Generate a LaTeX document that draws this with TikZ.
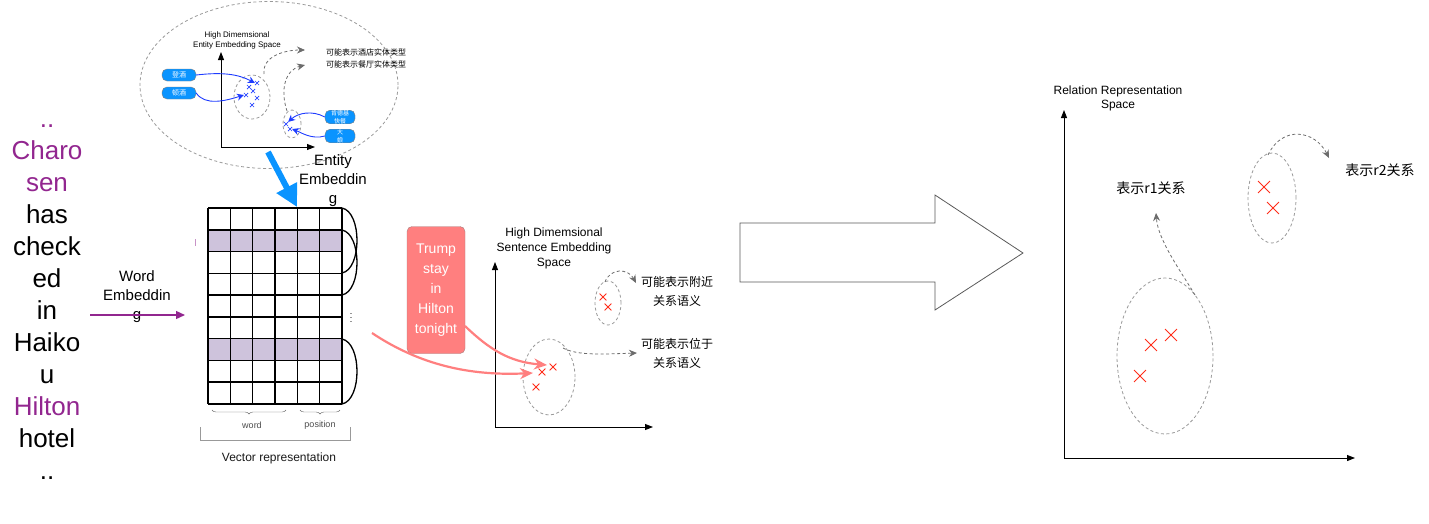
\documentclass[tikz,border=0pt]{standalone}
\usepackage{fontspec}
\setmainfont{Liberation Sans}
\newfontfamily\cjk{Noto Sans CJK SC}
\usetikzlibrary{arrows.meta,positioning,shapes.misc,shapes.geometric,decorations.pathreplacing,calc}
\definecolor{wpurple}{RGB}{146,38,143}
\definecolor{eblue}{RGB}{10,148,255}
\definecolor{xblue}{RGB}{30,60,255}
\definecolor{salmon}{RGB}{255,127,127}
\definecolor{xred}{RGB}{255,45,25}
\definecolor{lav}{RGB}{206,195,220}
\tikzset{>={Stealth[length=7pt,width=6pt]},
	axis/.style={line width=0.9pt,{Triangle[length=8pt,width=6pt]}-{Triangle[length=8pt,width=6pt]}},
	cluster/.style={ellipse,draw=gray!80,dashed,dash pattern=on 3pt off 2.5pt,line width=0.8pt,inner sep=0pt},
	darrow/.style={draw=gray!85!black,dashed,dash pattern=on 3pt off 2.5pt,line width=0.8pt,-{Stealth[length=8pt,width=7pt]}},
	barrow/.style={xblue,line width=0.9pt,-{Stealth[length=7pt,width=7pt]}},
	rarrow/.style={salmon,line width=2.2pt,-{Stealth[length=13pt,width=11pt]}},
	pill/.style={rounded corners=5pt,fill=eblue,draw=gray,text=white,minimum width=34pt,minimum height=12pt,inner sep=0pt,font=\cjk\fontsize{7}{7}\selectfont},
	bx/.style={cross out,draw=xblue,line width=0.7pt,minimum size=3.5pt,inner sep=0pt},
	sx/.style={cross out,draw=xred,line width=0.8pt,minimum size=6pt,inner sep=0pt},
	rx/.style={cross out,draw=xred,line width=0.9pt,minimum size=11pt,inner sep=0pt},
	lbl/.style={align=center,inner sep=0pt}}

\begin{document}
\begin{tikzpicture}[x=1pt,y=-1pt]
	\useasboundingbox (0,0) rectangle (1429,523);
	% sentence
	\node (sent) at (47,302) [lbl,font=\fontsize{26}{32}\selectfont] {\textcolor{wpurple}{..}\\\textcolor{wpurple}{Charo}\\\textcolor{wpurple}{sen}\\has\\check\\ed\\in\\Haiko\\u\\\textcolor{wpurple}{Hilton}\\hotel\\..};
	\node (wl) at (137,297) [lbl,font=\fontsize{15}{19}\selectfont] {Word\\Embeddin\\g};
	\coordinate (w0) at (90,315);
	\coordinate (w1) at (185,315);
	\draw [->,wpurple,line width=1.3pt,>={Triangle[length=9pt,width=8pt]}] (w0) -- (w1);
	% vector representation
	\foreach \r in {1,6}
		\fill [lav] (208,208+21.78*\r) rectangle (342,208+21.78*\r+21.78);
	\foreach \c in {0,...,6}
		\draw [line width=1.5pt] (208+22.33*\c,208) -- (208+22.33*\c,404);
	\foreach \r in {0,...,9}
		\draw [line width=1.5pt] (208,208+21.78*\r) -- (342,208+21.78*\r);
	\draw [line width=1.3pt] (342,208) .. controls (362,212) and (362,269) .. (342,273);
	\draw [line width=1.3pt] (342,230) .. controls (362,234) and (362,291) .. (342,295);
	\draw [line width=1.3pt] (342,339) .. controls (362,343) and (362,400) .. (342,404);
	\draw [wpurple!50,line width=0.8pt] (195,239) -- (195,246);
	\node (vd) at (351,315) [font=\fontsize{9}{9}\selectfont] {$\vdots$};
	\draw [gray!80!black,decorate,decoration={brace,mirror,amplitude=4pt}] (212,410) -- (286,410);
	\draw [gray!80!black,decorate,decoration={brace,mirror,amplitude=4pt}] (300,410) -- (340,410);
	\node (bw) at (252,425) [font=\fontsize{9}{10}\selectfont,text=gray!60!black] {word};
	\node (bp) at (320,425) [font=\fontsize{9}{10}\selectfont,text=gray!60!black] {position};
	\draw [gray!80,line width=0.8pt] (200,427) -- (200,440) -- (350,440) -- (350,427);
	\node (vr) at (279,458) [font=\fontsize{12}{14}\selectfont,text=gray!20!black] {Vector representation};
	% entity space
	\node (ent) at (269,85) [cluster,minimum width=258pt,minimum height=167pt] {};
	\coordinate (eo) at (221,147);
	\coordinate (ey) at (221,52);
	\coordinate (ex) at (315,147);
	\draw [axis] (ey) -- (eo) -- (ex);
	\node (el) at (237,40) [lbl,font=\fontsize{8}{10}\selectfont] {High Dimemsional\\Entity Embedding Space};
	\node (ec1) at (252,97) [cluster,minimum width=36pt,minimum height=44pt] {};
	\node (ec2) at (292,124) [cluster,minimum width=18pt,minimum height=28pt] {};
	\node (b1) at (257,83) [bx] {};
	\node (b2) at (249,87) [bx] {};
	\node (b3) at (253,91) [bx] {};
	\node (b4) at (246,95) [bx] {};
	\node (b5) at (257,98) [bx] {};
	\node (b6) at (252,105) [bx] {};
	\node (b7) at (286,124) [bx] {};
	\node (b8) at (290,129) [bx] {};
	\node (p1) at (179,75) [pill] {登酒};
	\node (p2) at (179,93) [pill] {顿酒};
	\node (p3) at (340,117) [pill,minimum width=30pt,align=center,font=\cjk\fontsize{6}{8}\selectfont] {肯德基\\快餐};
	\node (p4) at (340,136) [pill,minimum width=30pt,align=center,font=\cjk\fontsize{6}{8}\selectfont] {大\\娘};
	\draw [barrow] (p1.east) .. controls (222,72) and (238,74) .. (b1.west);
	\draw [barrow] (p2.east) .. controls (205,106) and (225,101) .. (b4.west);
	\draw [barrow] (p3.west) .. controls (312,110) and (298,113) .. (b7.north east);
	\draw [barrow] (p4.west) .. controls (312,140) and (300,132) .. (b8.east);
	\coordinate (e1) at (264,74);
	\coordinate (e1t) at (305,50);
	\coordinate (e2) at (287,111);
	\coordinate (e2t) at (305,65);
	\draw [darrow] (e1) .. controls (262,56) and (285,50) .. (e1t);
	\draw [darrow] (e2) .. controls (280,90) and (285,70) .. (e2t);
	\node (et) at (366,58) [lbl,font=\cjk\fontsize{8}{12}\selectfont] {可能表示酒店实体类型\\可能表示餐厅实体类型};
	\coordinate (eb0) at (268,152);
	\coordinate (eb1) at (297,207);
	\draw [eblue,line width=6pt,-{Triangle[length=22pt,width=22pt]}] (eb0) -- (eb1);
	\node (el2) at (333,181) [lbl,font=\fontsize{15}{19}\selectfont] {Entity\\Embeddin\\g};
	% sentence space
	\node (trump) at (436,290) [rounded corners=5pt,fill=salmon,draw=gray!70!salmon,minimum width=58pt,minimum height=127pt,text=white,lbl,font=\fontsize{14}{20}\selectfont] {Trump\\stay\\in\\Hilton\\tonight};
	\coordinate (so) at (495,427);
	\coordinate (sy) at (495,262);
	\coordinate (sxa) at (653,427);
	\draw [axis] (sy) -- (so) -- (sxa);
	\node (sl) at (554,248) [lbl,font=\fontsize{12}{15}\selectfont] {High Dimemsional\\Sentence Embedding\\Space};
	\node (sc1) at (549,377) [cluster,minimum width=52pt,minimum height=76pt] {};
	\node (sc2) at (608,303) [cluster,minimum width=26pt,minimum height=44pt] {};
	\node (s1) at (553,367) [sx] {};
	\node (s2) at (542,372) [sx] {};
	\node (s3) at (536,387) [sx] {};
	\node (s4) at (603,297) [sx] {};
	\node (s5) at (608,307) [sx] {};
	\coordinate (r0) at (465,326);
	\coordinate (r1) at (547,365);
	\coordinate (r2) at (372,333);
	\coordinate (r3) at (533,373);
	\draw [rarrow] (r0) .. controls (490,350) and (510,362) .. (r1);
	\draw [rarrow] (r2) .. controls (420,365) and (470,376) .. (r3);
	\coordinate (d1) at (605,282);
	\coordinate (d1t) at (636,283);
	\coordinate (d2) at (563,348);
	\coordinate (d2t) at (637,353);
	\draw [darrow] (d1) .. controls (610,268) and (628,268) .. (d1t);
	\draw [darrow] (d2) .. controls (578,356) and (605,354) .. (d2t);
	\node (st1) at (677,291) [lbl,font=\cjk\fontsize{12}{19}\selectfont] {可能表示附近\\关系语义};
	\node (st2) at (677,353) [lbl,font=\cjk\fontsize{12}{19}\selectfont] {可能表示位于\\关系语义};
	% big arrow
	\draw [gray!70!black,line width=0.8pt] (740,223) -- (935,223) -- (935,195) -- (1023,253) -- (935,310) -- (935,282) -- (740,282) -- cycle;
	% relation space
	\coordinate (ro) at (1064,458);
	\coordinate (ry) at (1064,110);
	\coordinate (rxa) at (1355,458);
	\draw [axis] (ry) -- (ro) -- (rxa);
	\node (rl) at (1118,98) [lbl,font=\fontsize{12}{14}\selectfont] {Relation Representation\\Space};
	\node (rc1) at (1165,356) [cluster,minimum width=96pt,minimum height=156pt] {};
	\node (rc2) at (1272,198) [cluster,minimum width=48pt,minimum height=90pt] {};
	\node (x1) at (1171,335) [rx] {};
	\node (x2) at (1151,345) [rx] {};
	\node (x3) at (1140,376) [rx] {};
	\node (x4) at (1264,187) [rx] {};
	\node (x5) at (1273,208) [rx] {};
	\coordinate (q1) at (1195,295);
	\coordinate (q1t) at (1156,213);
	\coordinate (q2) at (1268,155);
	\coordinate (q2t) at (1329,158);
	\draw [darrow] (q1) .. controls (1180,270) and (1158,240) .. (q1t);
	\draw [darrow] (q2) .. controls (1282,125) and (1315,130) .. (q2t);
	\node (rt1) at (1151,188) [font=\cjk\fontsize{14}{16}\selectfont] {表示r1关系};
	\node (rt2) at (1380,170) [font=\cjk\fontsize{14}{16}\selectfont] {表示r2关系};
\end{tikzpicture}
\end{document}
